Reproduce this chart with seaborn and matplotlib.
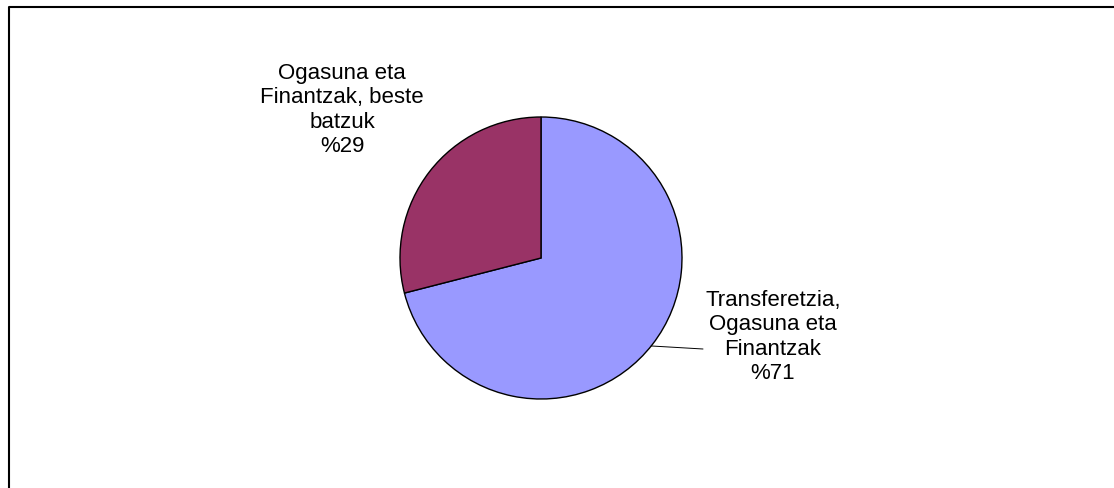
import matplotlib
matplotlib.use("Agg")
import matplotlib.pyplot as plt
import seaborn as sns
import numpy as np

categories = ["Transferetzia,\nOgasuna eta\nFinantzak", "Ogasuna eta\nFinantzak, beste\nbatzuk"]
values = [71, 29]
colors = ["#9999FF", "#993366"]

sns.set_theme(style="white")
plt.rcParams['font.family'] = ['Liberation Sans', 'DejaVu Sans']

W, H = 1114, 488
fig = plt.figure(figsize=(W / 100, H / 100), dpi=100)
ax = fig.add_axes([0, 0, 1, 1])

cx, cy, r = 541, H - 258, 141
wedges, _ = ax.pie(values, colors=colors, startangle=90, counterclock=False,
                   center=(cx, cy), radius=r, frame=True,
                   wedgeprops=dict(edgecolor='black', linewidth=1.0))
ax.set_xlim(0, W)
ax.set_ylim(0, H)
ax.set_aspect('equal')
ax.axis('off')

label_pos = [(773, H - 337), (342, H - 110)]
for cat, v, (lx, ly) in zip(categories, values, label_pos):
    ax.text(lx, ly, f"{cat}\n%{v}", ha='center', va='center', fontsize=16,
            linespacing=1.2, color='black')

# leader line for first slice
ang = np.deg2rad(-38.6)
ex, ey = cx + r * np.cos(ang), cy + r * np.sin(ang)
ax.plot([ex, 703], [ey, H - 349], color='black', linewidth=0.7)

# outer frame (cropped on right/bottom)
ax.plot([8.5, 8.5, W + 5], [-5, H - 6.5, H - 6.5], color='black', linewidth=1.5,
        clip_on=False)

fig.savefig("out.png", dpi=100)
